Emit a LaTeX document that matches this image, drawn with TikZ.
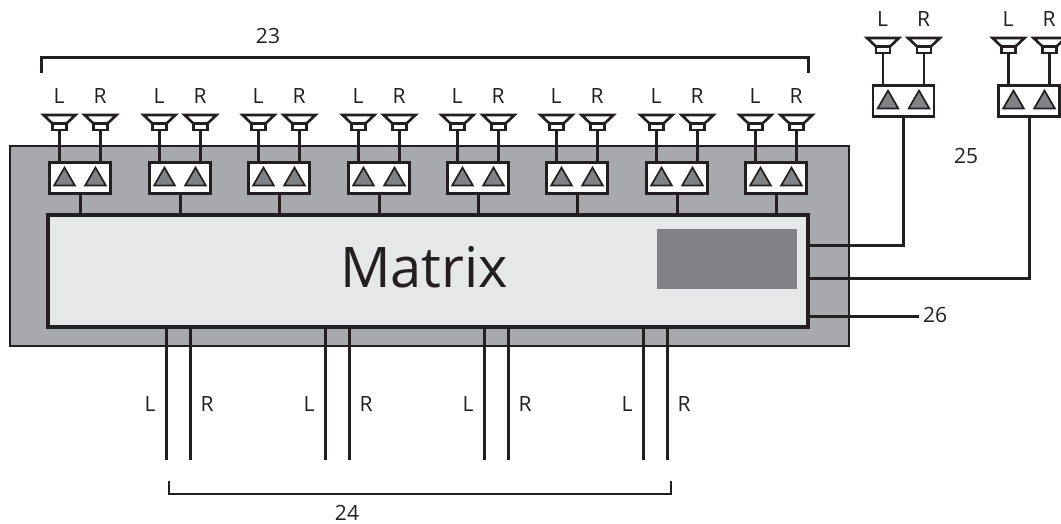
\documentclass[tikz,border=0pt]{standalone}
\usepackage{fontspec}
\setmainfont{Open Sans}
\usepackage{xcolor}
\usetikzlibrary{positioning, shapes.geometric}

\definecolor{ink}{HTML}{231F20}
\definecolor{panelgray}{HTML}{A7A9AC}
\definecolor{matrixgray}{HTML}{E6E7E8}
\definecolor{darkgray}{HTML}{808285}

\begin{document}
\begin{tikzpicture}[
  x=1pt, y=-1pt,
  color=ink,
  font=\fontsize{21}{24}\selectfont,
  panel/.style={draw=ink, line width=1.8pt, fill=panelgray},
  wire/.style={draw=ink, line width=3pt},
  thinwire/.style={draw=ink, line width=2.6pt},
  matrixbox/.style={draw=ink, line width=3.6pt, fill=matrixgray, minimum width=760pt,
              minimum height=112pt, inner sep=0pt},
  display/.style={fill=darkgray, minimum width=140pt, minimum height=60pt, inner sep=0pt},
  ampbox/.style={draw=ink, line width=2.6pt, fill=white, minimum width=61pt,
              minimum height=31pt, inner sep=0pt},
  amptri/.style={draw=ink, line width=1.7pt, fill=darkgray, regular polygon,
              regular polygon sides=3, minimum size=24pt, inner sep=0pt},
  neck/.style={draw=ink, line width=2.6pt, fill=white, minimum width=14pt,
              minimum height=6pt, inner sep=0pt},
  cone/.style={draw=ink, line width=2.6pt, fill=white, line join=miter},
  speaker/.pic={
    \path[cone] (-16,1) -- (16,1) -- (7,9.5) -- (-7,9.5) -- cycle;
    \node[neck] (-neck) at (0,13) {};
  },
  ampunit/.pic={
    \pic (-spl) at (-20.5,-64) {speaker};
    \pic (-spr) at (20.5,-64) {speaker};
    \node[ampbox] (-box) at (0,0) {};
    \path[thinwire] (-spl-neck) -- (-spl-neck |- -box.north);
    \path[thinwire] (-spr-neck) -- (-spr-neck |- -box.north);
    \node[amptri] at (-15.5,1.6) {};
    \node[amptri] at (15.5,1.6) {};
    \node (-lbl) at (-21,-82) {L};
    \node (-lbr) at (20,-82) {R};
  }
]
\useasboundingbox (0,0) rectangle (1061,524);
\path[panel] (10,146) rectangle (849,346);
% amplifiers on the panel
\foreach \n/\x in {1/80,2/180,3/279,4/379,5/478,6/577,7/677,8/776} {
  \pic (amp\n) at (\x,178) {ampunit};
}
\node[matrixbox] (matrix) at (428,271) {};
\foreach \n in {1,...,8} {
  \path[wire] (amp\n-box.south) -- (amp\n-box.south |- matrix.north);
}
\node[display] (display) at (727,259) {};
\node[font=\fontsize{56}{60}\selectfont] (title) at (424,267) {Matrix};
% outside amplifiers
\pic (ampa) at (903.5,101) {ampunit};
\pic (ampb) at (1029,101) {ampunit};
\coordinate (ca) at (matrix.east |- 0,245);
\coordinate (cb) at (matrix.east |- 0,278);
\coordinate (cc) at (matrix.east |- 0,316);
\path[wire] (ca) -| (ampa-box.south);
\path[wire] (cb) -| (ampb-box.south);
\node (n26) at (935,315) {26};
\path[wire] (cc) -- (cc -| n26.west);
\node (n25) at (966,156) {25};
% outputs at the bottom
\foreach \n/\x in {1/166,2/325,3/484,4/643} {
  \coordinate (endl\n) at (\x,460);
  \coordinate (endr\n) at (\x+24,460);
  \path[wire] (endl\n |- matrix.south) -- (endl\n);
  \path[wire] (endr\n |- matrix.south) -- (endr\n);
  \node (ll\n) at (\x-16,404) {L};
  \node (lr\n) at (\x+41,404) {R};
}
% brackets
\coordinate (ba) at (41,73);
\coordinate (bb) at (808,73);
\path[wire] (ba) -- ++(0,-15) -| (bb);
\node (n23) at (268,36) {23};
\coordinate (bc) at (169,481);
\coordinate (bd) at (671,481);
\path[thinwire] (bc) -- ++(0,13) -| (bd);
\node (n24) at (347,513) {24};
\end{tikzpicture}
\end{document}
